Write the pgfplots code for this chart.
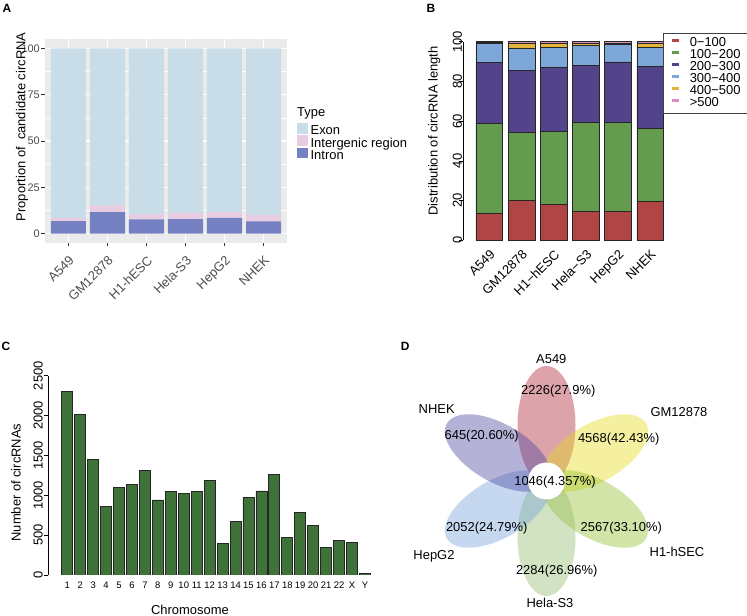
\documentclass[border=0pt]{standalone}
\usepackage{fontspec}
\setmainfont{Liberation Sans}
\usepackage{pgfplots}
\pgfplotsset{compat=1.18}

\definecolor{ggbg}{HTML}{EBEBEB}
\definecolor{ggtext}{HTML}{4D4D4D}
\definecolor{ggtick}{HTML}{333333}
\definecolor{exon}{HTML}{C9DDE8}
\definecolor{intergenic}{HTML}{E8CDE2}
\definecolor{intron}{HTML}{7480C2}
\definecolor{len1}{HTML}{B04545}
\definecolor{len2}{HTML}{649B4F}
\definecolor{len3}{HTML}{52438A}
\definecolor{len4}{HTML}{7DA7D9}
\definecolor{len5}{HTML}{E3B43C}
\definecolor{len6}{HTML}{D68DBE}
\definecolor{chrgreen}{HTML}{3E7238}
\definecolor{pA549}{RGB}{168,28,43}
\definecolor{pGM}{RGB}{228,218,18}
\definecolor{pH1}{RGB}{145,188,38}
\definecolor{pHela}{RGB}{143,185,105}
\definecolor{pHepG2}{RGB}{110,158,218}
\definecolor{pNHEK}{RGB}{70,63,158}

\newcommand{\fs}[1]{\fontsize{#1}{#1}\selectfont}

\pgfplotsset{every axis/.append style={
  /pgf/number format/assume math mode=true,
  /pgf/number format/1000 sep={}}}

\begin{document}
\begin{tikzpicture}
\path[use as bounding box] (0bp,0bp) rectangle (747bp,616bp);

% panel letters
\node[font=\fs{12}\bfseries] at (7bp,607.7bp) {A};
\node[font=\fs{12}\bfseries] at (431bp,607.7bp) {B};
\node[font=\fs{12}\bfseries] at (6bp,270bp) {C};
\node[font=\fs{12}\bfseries] at (405.3bp,270bp) {D};

% ---------------- A: genomic type (ggplot look)
\begin{axis}[
  at={(45bp,373bp)}, anchor=south west, scale only axis,
  width=242bp, height=204bp,
  xmin=0.4, xmax=6.6, ymin=-5, ymax=105,
  ybar stacked, bar width=0.9, clip=false,
  axis background/.style={fill=ggbg},
  axis line style={draw=none},
  xtick={1,...,6},
  xticklabels={A549,GM12878,H1-hESC,Hela-S3,HepG2,NHEK},
  ytick={0,25,50,75,100},
  minor ytick={12.5,37.5,62.5,87.5},
  grid=both,
  major grid style={white, line width=1.1bp},
  minor grid style={white, line width=0.55bp},
  tick align=outside, tick pos=left,
  major tick length=3.5bp, minor tick length=0bp,
  tick style={ggtick, line width=0.7bp},
  yticklabel style={font=\fs{11}, text=ggtext, inner sep=1.5bp},
  xticklabel style={font=\fs{13}, text=ggtext, rotate=45, anchor=north east, inner sep=1bp},
  xticklabel shift=7bp,
  ylabel={Proportion of \ candidate circRNA},
  ylabel style={font=\fs{13}, at={(axis description cs:-0.095,0.569)}, anchor=center},
  reverse legend,
  legend cell align=left,
  legend image code/.code={\fill[#1,draw=none] (0bp,-2bp) rectangle (10.5bp,8.5bp);},
  legend style={draw=none, fill=none, font=\fs{13}, inner sep=0bp,
    at={(axis description cs:1.041,0.589)}, anchor=north west,
    row sep=-2.5bp,
    nodes={inner sep=0bp, text height=9.5bp, text depth=3bp},
    /tikz/every odd column/.append style={column sep=3bp}},
]
\addplot[fill=intron, draw=none] coordinates
  {(1,6.8) (2,11.7) (3,7.7) (4,7.9) (5,8.5) (6,6.7)};
\addlegendentry{Intron}
\addplot[fill=intergenic, draw=none] coordinates
  {(1,1.8) (2,3.6) (3,2.9) (4,3.3) (5,3.0) (6,3.4)};
\addlegendentry{Intergenic region}
\addplot[fill=exon, draw=none] coordinates
  {(1,91.4) (2,84.7) (3,89.4) (4,88.8) (5,88.5) (6,89.9)};
\addlegendentry{Exon}
\node[font=\fs{13}, anchor=west, inner sep=0bp] at (axis description cs:1.041,0.637) {Type};
\end{axis}

% ---------------- B: length distribution (base R look)
\begin{axis}[
  at={(463.3bp,375.7bp)}, anchor=south west, scale only axis,
  width=203.1bp, height=198.6bp,
  xmin=0.193, xmax=6.5, ymin=0, ymax=100,
  ybar stacked, bar width=0.83,
  axis lines*=left,
  x axis line style={draw=none},
  y axis line style={line width=0.7bp},
  xtick={1,...,6},
  xticklabels={A549,GM12878,H1−hESC,Hela−S3,HepG2,NHEK},
  xtick style={draw=none},
  ytick={0,20,...,100},
  tick align=outside, major tick length=4bp,
  ytick style={line width=0.7bp, black},
  yticklabel style={font=\fs{13}, rotate=90, anchor=south, inner sep=1bp},
  yticklabel shift=-4bp,
  xticklabel style={font=\fs{13}, rotate=45, anchor=north east, inner sep=1bp},
  xticklabel shift=3bp,
  ylabel={Distribution of circRNA length},
  ylabel style={font=\fs{13}, at={(axis description cs:-0.143,0.551)}, anchor=center},
  legend cell align=left,
  legend image code/.code={\fill[#1,draw=none] (0bp,1.8bp) rectangle (7bp,4.6bp);
    \path[draw=none, fill=none] (0bp,3bp) -- (18bp,3bp);},
  legend style={draw=black!75, line width=0.8bp, fill=white, font=\fs{13},
    inner xsep=8bp, inner ysep=4bp,
    at={(axis description cs:0.985,1.044)}, anchor=north west,
    nodes={inner sep=0bp, text height=9bp, text depth=3bp}},
  every axis plot/.append style={draw=black!85, line width=0.6bp},
]
\addplot[fill=len1] coordinates {(1,13.4) (2,20.1) (3,18.1) (4,14.4) (5,14.4) (6,19.5)};
\addlegendentry{0−100}
\addplot[fill=len2] coordinates {(1,45.3) (2,34.4) (3,36.8) (4,45.0) (5,45.0) (6,36.7)};
\addlegendentry{100−200\hspace*{8bp}}
\addplot[fill=len3] coordinates {(1,30.9) (2,31.1) (3,32.2) (4,28.5) (5,30.4) (6,31.4)};
\addlegendentry{200−300}
\addplot[fill=len4] coordinates {(1,9.4) (2,10.9) (3,9.9) (4,10.4) (5,8.7) (6,9.7)};
\addlegendentry{300−400}
\addplot[fill=len5] coordinates {(1,0.6) (2,2.5) (3,2.2) (4,1.0) (5,0.8) (6,1.7)};
\addlegendentry{400−500}
\addplot[fill=len6] coordinates {(1,0.4) (2,1.0) (3,0.8) (4,0.7) (5,0.7) (6,1.0)};
\addlegendentry{>500}
\end{axis}

% ---------------- C: circRNAs per chromosome
\begin{axis}[
  at={(48bp,41bp)}, anchor=south west, scale only axis,
  width=323.4bp, height=199.3bp,
  xmin=-0.49, xmax=24.5, ymin=0, ymax=2500,
  ybar, bar width=0.85,
  axis lines*=left,
  x axis line style={draw=none},
  y axis line style={line width=0.7bp},
  xtick={1,...,24},
  xticklabels={1,2,3,4,5,6,7,8,9,10,11,12,13,14,15,16,17,18,19,20,21,22,X,Y},
  xtick style={draw=none},
  ytick={0,500,...,2500},
  tick align=outside, major tick length=4bp,
  ytick style={line width=0.7bp, black},
  yticklabel style={font=\fs{13}, rotate=90, anchor=south, inner sep=1bp},
  xticklabel style={font=\fs{9.5}, anchor=north, inner sep=1bp},
  xticklabel shift=1.5bp,
  xlabel={Chromosome},
  xlabel style={font=\fs{13}, at={(axis description cs:0.439,-0.176)}, anchor=center},
  ylabel={Number of circRNAs},
  ylabel style={font=\fs{13}, at={(axis description cs:-0.099,0.464)}, anchor=center},
]
\addplot[fill=chrgreen, draw=black!85, line width=0.7bp] coordinates {
  (1,2308) (2,2015) (3,1446) (4,857) (5,1100) (6,1141) (7,1317) (8,941)
  (9,1049) (10,1024) (11,1049) (12,1191) (13,397) (14,677) (15,970) (16,1054)
  (17,1263) (18,472) (19,782) (20,627) (21,351) (22,439) (23,410) (24,21)};
\end{axis}

% ---------------- D: flower Venn diagram
\begin{axis}[
  at={(546.5bp,135bp)}, anchor=center, scale only axis,
  width=300bp, height=300bp,
  xmin=-150, xmax=150, ymin=-150, ymax=150,
  hide axis, clip=false,
]
\fill[pA549, fill opacity=0.4] (axis cs:0,56) ellipse [x radius=59, y radius=29, rotate=90];
\fill[pGM, fill opacity=0.4] (axis cs:48.5,28) ellipse [x radius=59, y radius=29, rotate=30];
\fill[pH1, fill opacity=0.4] (axis cs:48.5,-28) ellipse [x radius=59, y radius=29, rotate=-30];
\fill[pHela, fill opacity=0.4] (axis cs:0,-56) ellipse [x radius=59, y radius=29, rotate=90];
\fill[pHepG2, fill opacity=0.4] (axis cs:-48.5,-28) ellipse [x radius=59, y radius=29, rotate=30];
\fill[pNHEK, fill opacity=0.4] (axis cs:-48.5,28) ellipse [x radius=59, y radius=29, rotate=-30];
\fill[white] (axis cs:0,0) circle [radius=18.5];
\begin{scope}[every node/.style={font=\fs{13}, inner sep=0bp}]
\node at (axis cs:4.8,121.7) {A549};
\node at (axis cs:11.8,90) {2226(27.9\%)};
\node at (axis cs:-109.8,71.7) {NHEK};
\node at (axis cs:-64.8,45) {645(20.60\%)};
\node at (axis cs:132.5,69.3) {GM12878};
\node at (axis cs:72.2,41.7) {4568(42.43\%)};
\node at (axis cs:8.5,-0.7) {1046(4.357\%)};
\node at (axis cs:-59.8,-47.3) {2052(24.79\%)};
\node at (axis cs:74.8,-47.3) {2567(33.10\%)};
\node at (axis cs:-112.5,-75) {HepG2};
\node at (axis cs:130.5,-70.7) {H1-hSEC};
\node at (axis cs:10.2,-89.7) {2284(26.96\%)};
\node at (axis cs:3.5,-122.3) {Hela-S3};
\end{scope}
\end{axis}
\end{tikzpicture}
\end{document}
